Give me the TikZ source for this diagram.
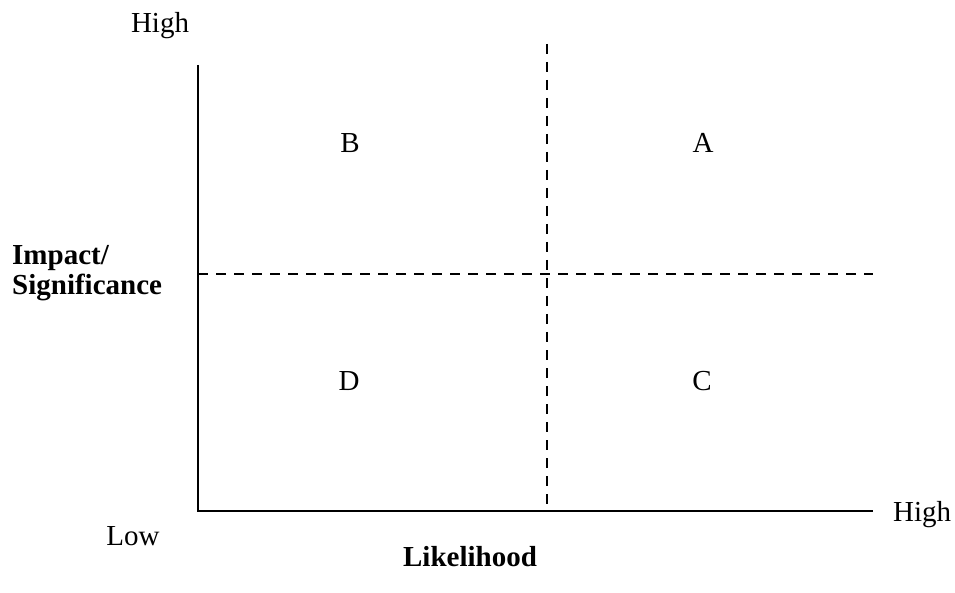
\documentclass[tikz,border=0pt]{standalone}
\usepackage{fontspec}
\setmainfont{Liberation Serif}
\begin{document}
\begin{tikzpicture}[x=1pt,y=-1pt,
  lbl/.style={font=\fontsize{29}{30}\selectfont, inner sep=0pt, anchor=base},
  blbl/.style={font=\fontsize{29}{30}\selectfont\bfseries, inner sep=0pt, anchor=base},
  axis/.style={line width=2pt},
  divider/.style={line width=2pt, dash pattern=on 10pt off 8pt}]
\useasboundingbox (0,0) rectangle (955,593);
% axes
\coordinate (top) at (198,65);
\coordinate (origin) at (198,511);
\coordinate (right) at (873,511);
\draw[axis] (top) -- (origin) -- (right);
% quadrant dividers
\coordinate (vtop) at (547,44);
\coordinate (vbot) at (547,511);
\coordinate (hleft) at (198,274);
\coordinate (hright) at (873,274);
\draw[divider] (vtop) -- (vbot);
\draw[divider] (hleft) -- (hright);
% quadrant labels
\node[lbl] (B) at (350,153) {B};
\node[lbl] (A) at (703,153) {A};
\node[lbl] (D) at (349,390) {D};
\node[lbl] (C) at (702,390) {C};
% axis labels
\node[lbl] (yhigh) at (160,33) {High};
\node[lbl] (ylow) at (133,545) {Low};
\node[lbl, anchor=base west] (xhigh) at (893,521) {High};
\node[blbl, anchor=base west] (impact) at (12,265) {Impact/};
\node[blbl, anchor=base west] (signif) at (12,295) {Significance};
\node[blbl] (likelihood) at (470,566) {Likelihood};
\end{tikzpicture}
\end{document}
